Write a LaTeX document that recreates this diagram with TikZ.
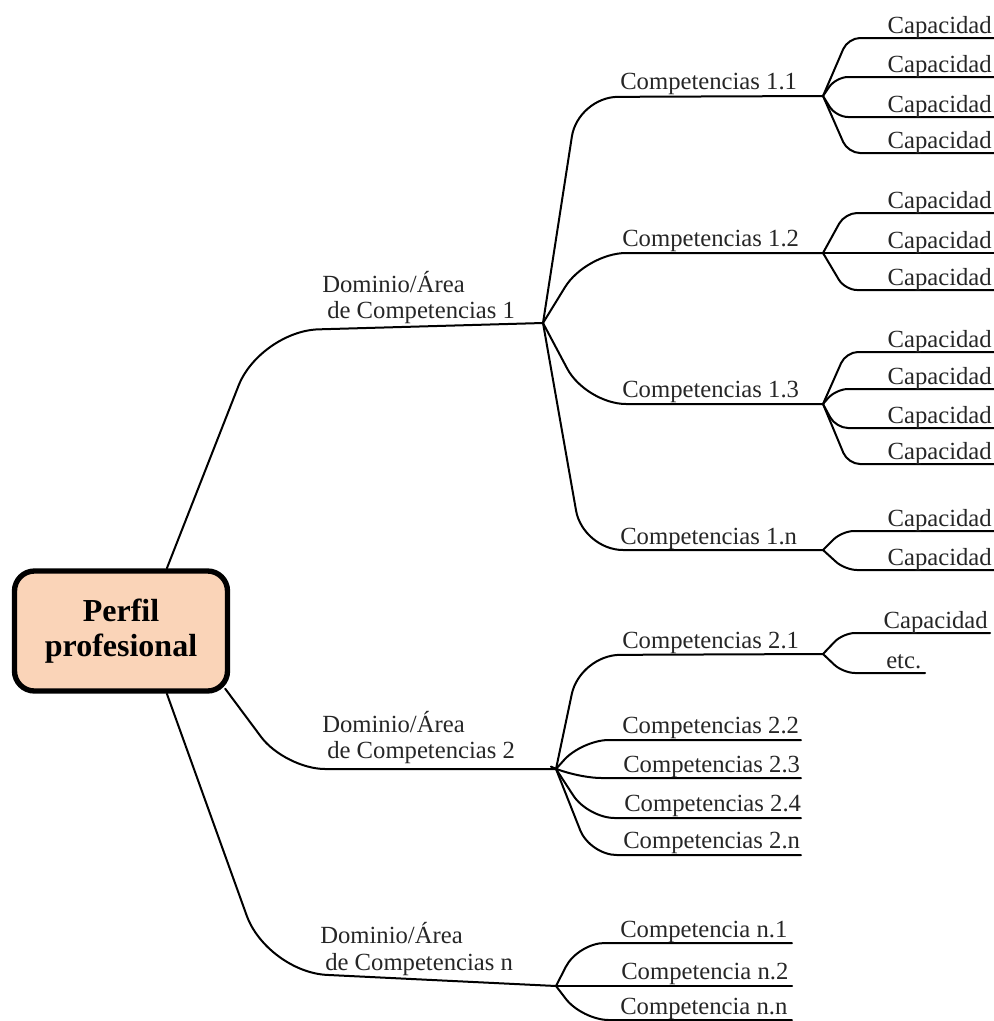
\documentclass[tikz,border=0pt]{standalone}
\usepackage{fontspec}
\setmainfont{Liberation Serif}
\usetikzlibrary{calc,backgrounds}
\definecolor{rootfill}{RGB}{250,212,184}
\definecolor{ink}{RGB}{38,38,38}
\begin{document}
\begin{tikzpicture}[x=0.75pt,y=-0.75pt,
  branch/.style={draw=black,line width=1.5pt,line join=round,line cap=round},
  wide/.style={branch,rounded corners=30pt},
  fan/.style={branch,rounded corners=20pt},
  twig/.style={branch,rounded corners=9pt},
  lbl/.style={inner sep=0pt,text=ink,font=\fontsize{18.5}{20.5}\selectfont},
  rootbox/.style={draw=black,line width=4pt,fill=rootfill,rounded corners=15pt,
    minimum width=159.75pt,minimum height=90pt,align=center,inner sep=0pt,
    font=\bfseries\fontsize{24}{26.25}\selectfont}]
\useasboundingbox (0,0) rectangle (994,1021);

% central box
\node[rootbox] (root) at (121,631) {Perfil\\profesional};

% hubs of the three domains
\coordinate (d1) at (543,323);
\coordinate (d2) at (556,769);
\coordinate (dn) at (556,986);
\coordinate (d1s) at (260,331);
\coordinate (d2s) at (285,769);
\coordinate (dns) at (267,972);

\begin{scope}[on background layer]
\draw[branch,rounded corners=44pt] ($(root.north west)!0.71!(root.north east)$) -- (d1s) -- (d1);
\draw[branch,rounded corners=30pt] ($(root.south east)+(-5,-5)$) -- (d2s) -- (d2);
\draw[branch,rounded corners=45pt] ($(root.south west)!0.71!(root.south east)$) -- (dns) -- (dn);
\end{scope}

% domain labels
\node[lbl,anchor=base west] (l1a) at (322,292) {Dominio/Área};
\node[lbl,anchor=base west] (l1b) at (327,318) {de Competencias 1};
\node[lbl,anchor=base west] (l2a) at (322,732) {Dominio/Área};
\node[lbl,anchor=base west] (l2b) at (327,758) {de Competencias 2};
\node[lbl,anchor=base west] (lna) at (320,943) {Dominio/Área};
\node[lbl,anchor=base west] (lnb) at (325,970) {de Competencias n};

% ---- domain 1 competencies
\coordinate (c11s) at (578,97);  \coordinate (c11) at (823,96);
\coordinate (c12s) at (586,253); \coordinate (c12) at (823,253);
\coordinate (c13s) at (586,404); \coordinate (c13) at (823,404);
\coordinate (c1ns) at (583,550); \coordinate (c1n) at (823,550);
\draw[wide] (d1) -- (c11s) -- (c11);
\draw[wide] (d1) -- (c12s) -- (c12);
\draw[wide] (d1) -- (c13s) -- (c13);
\draw[wide] (d1) -- (c1ns) -- (c1n);
\node[lbl,anchor=base west] (t11) at (620,89) {Competencias 1.1};
\node[lbl,anchor=base west] (t12) at (622,246) {Competencias 1.2};
\node[lbl,anchor=base west] (t13) at (622,397) {Competencias 1.3};
\node[lbl,anchor=base west] (t1n) at (620,544) {Competencias 1.n};

% ---- domain 2 competencies
\coordinate (c21s) at (580,655); \coordinate (c21) at (823,654);
\coordinate (c22s) at (582,740); \coordinate (c22) at (801,740);
\coordinate (c23s) at (575,778); \coordinate (c23) at (801,778);
\coordinate (c24s) at (588,818); \coordinate (c24) at (801,818);
\coordinate (c2ns) at (590,855); \coordinate (c2n) at (801,855);
\draw[wide] (d2) -- (c21s) -- (c21);
\draw[fan] (d2) -- (c22s) -- (c22);
\draw[fan] (d2) -- (c23s) -- (c23);
\draw[fan] (d2) -- (c24s) -- (c24);
\draw[fan] (d2) -- (c2ns) -- (c2n);
\node[lbl,anchor=base west] (t21) at (622,648) {Competencias 2.1};
\node[lbl,anchor=base west] (t22) at (622,733) {Competencias 2.2};
\node[lbl,anchor=base west] (t23) at (623,772) {Competencias 2.3};
\node[lbl,anchor=base west] (t24) at (624,811) {Competencias 2.4};
\node[lbl,anchor=base west] (t2n) at (623,848) {Competencias 2.n};

% ---- domain n competencies
\coordinate (cn1s) at (578,943);  \coordinate (cn1) at (792,943);
\coordinate (cn2) at (792,986);
\coordinate (cnns) at (582,1020); \coordinate (cnn) at (792,1020);
\draw[fan] (dn) -- (cn1s) -- (cn1);
\draw[branch] (dn) -- (cn2);
\draw[fan] (dn) -- (cnns) -- (cnn);
\node[lbl,anchor=base west] (tn1) at (620,937) {Competencia n.1};
\node[lbl,anchor=base west] (tn2) at (621,979) {Competencia n.2};
\node[lbl,anchor=base west] (tnn) at (620,1014) {Competencia n.n};

% ---- capacities
\foreach \hub/\y/\cx/\n in {c11/38/848/a, c11/77/836/b, c11/117/836/c, c11/153/848/d,
    c12/213/845/e, c12/290/845/f,
    c13/352/846/g, c13/389/836/h, c13/428/836/i, c13/464/848/j,
    c1n/531/842/k, c1n/570/845/l}{
  \coordinate (k\n s) at (\cx,\y);
  \coordinate (k\n) at (994,\y);
  \draw[twig] (\hub) -- (k\n s) -- (k\n);
  \node[lbl,anchor=base east] (kt\n) at (992,\y-5) {Capacidad};
}
% the middle capacity of 1.2 runs straight from its hub
\coordinate (km) at (994,253);
\draw[branch] (c12) -- (km);
\node[lbl,anchor=base east] (ktm) at (992,248) {Capacidad};

% capacities of 2.1
\coordinate (kps) at (843,633); \coordinate (kp) at (990,633);
\coordinate (kqs) at (843,673); \coordinate (kq) at (925,673);
\draw[twig] (c21) -- (kps) -- (kp);
\draw[twig] (c21) -- (kqs) -- (kq);
\node[lbl,anchor=base east] (ktp) at (988,628) {Capacidad};
\node[lbl,anchor=base west] (ktq) at (886,668) {etc.};
\end{tikzpicture}
\end{document}
